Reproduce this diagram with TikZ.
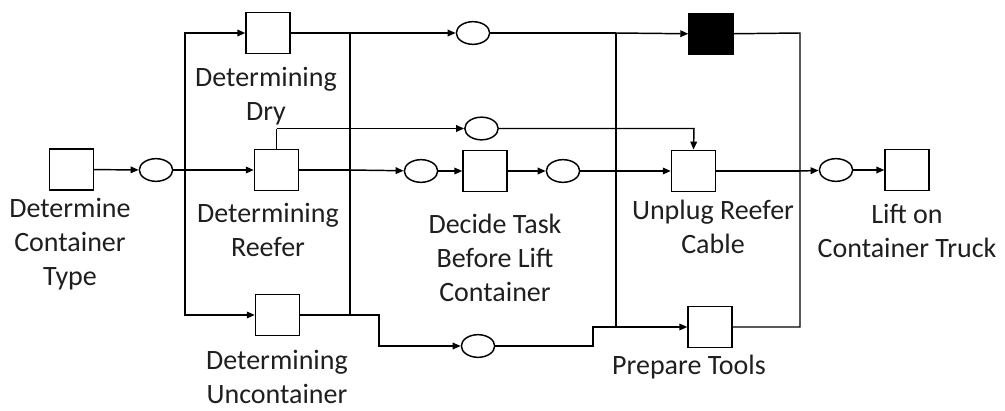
\documentclass[tikz,border=0pt]{standalone}
\usepackage{fontspec}
\setmainfont{Carlito}
\usetikzlibrary{arrows.meta,shapes.geometric}
\begin{document}
\begin{tikzpicture}[x=0.75pt,y=-0.75pt,
  line width=1.1pt,
  trans/.style={draw, rectangle, minimum width=33pt, minimum height=31pt, inner sep=0pt, line width=1.1pt},
  blacktrans/.style={trans, fill=black},
  place/.style={draw, ellipse, minimum width=25pt, minimum height=17pt, inner sep=0pt, line width=1.1pt},
  lbl/.style={align=center, font=\fontsize{21pt}{25.5pt}\selectfont, inner sep=0pt, text=black!88},
  arc/.style={-{Triangle[length=6pt,width=5pt]}},
  link/.style={line cap=rect}]
\useasboundingbox (0,0) rectangle (1005,410);
% transitions
\node[trans] (t1) at (71.5,169.5) {};
\node[trans] (tDry) at (268,33) {};
\node[trans] (tReefer) at (276.5,170) {};
\node[trans] (tUn) at (277.5,315) {};
\node[trans] (tDecide) at (485,171) {};
\node[trans] (tUnplug) at (693.5,171) {};
\node[blacktrans] (tBlack) at (711,34) {};
\node[trans] (tPrep) at (710,327) {};
\node[trans] (tLift) at (907,170) {};
% places
\node[place] (p1) at (156,170) {};
\node[place] (pDry) at (473,33) {};
\node[place] (pR) at (481.5,128.5) {};
\node[place] (p2) at (421,171) {};
\node[place] (p3) at (563,171) {};
\node[place] (pUn) at (478,346) {};
\node[place] (p4) at (836,170) {};
% junction coordinates
\coordinate (j1) at (185,170);
\coordinate (jA) at (350,33);
\coordinate (jB) at (350,170);
\coordinate (jC) at (350,315);
\coordinate (jC2) at (379,315);
\coordinate (jD) at (616,33);
\coordinate (jE) at (616,171);
\coordinate (jF) at (616,327);
\coordinate (jG) at (593,346);
\coordinate (jH) at (800,33);
\coordinate (jI) at (800,171);
\coordinate (jJ) at (800,327);
\coordinate (jR) at (276.5,128.5);
\coordinate (jR2) at (694,128.5);
% arcs
\draw[arc] (t1) -- (p1);
\draw (p1) -- (j1);
\draw[arc] (j1) |- (tDry);
\draw[arc] (j1) -- (tReefer);
\draw[arc] (j1) |- (tUn);
\draw (tDry) -- (jA);
\draw[arc] (jA) -- (pDry);
\draw (tReefer) -- (jB);
\draw[arc] (jB) -- (p2);
\draw (tUn) -- (jC);
\draw (jA) -- (jC);
\draw[arc] (jC) -- (jC2) |- (pUn);
\draw (tReefer.north) -- (jR);
\draw[arc] (jR) -- (pR);
\draw[arc] (pR) -- (jR2) -- (tUnplug.north);
\draw[arc] (p2) -- (tDecide);
\draw[arc] (tDecide) -- (p3);
\draw (p3) -- (jE);
\draw[arc] (jE) -- (tUnplug);
\draw (pDry) -- (jD);
\draw[arc] (jD) -- (tBlack);
\draw (jD) -- (jF);
\draw (pUn) -- (jG) |- (jF);
\draw[arc] (jF) -- (tPrep);
\draw (tBlack) -- (jH) -- (jJ) -- (tPrep);
\draw (tUnplug) -- (jI);
\draw[arc] (jI) -- (p4);
\draw[arc] (p4) -- (tLift);
% labels
\node[lbl] (l1) at (70,244) {Determine\\Container\\Type};
\node[lbl] (lDry) at (266,96) {Determining\\Dry};
\node[lbl] (lReefer) at (268,230) {Determining\\Reefer};
\node[lbl] (lUn) at (277,377) {Determining\\Uncontainer};
\node[lbl] (lDecide) at (495,258) {Decide Task\\Before Lift\\Container};
\node[lbl] (lUnplug) at (713,227) {Unplug Reefer\\Cable};
\node[lbl] (lPrep) at (689,367) {Prepare Tools};
\node[lbl] (lLift) at (907,231) {Lift on\\Container Truck};
\end{tikzpicture}
\end{document}
